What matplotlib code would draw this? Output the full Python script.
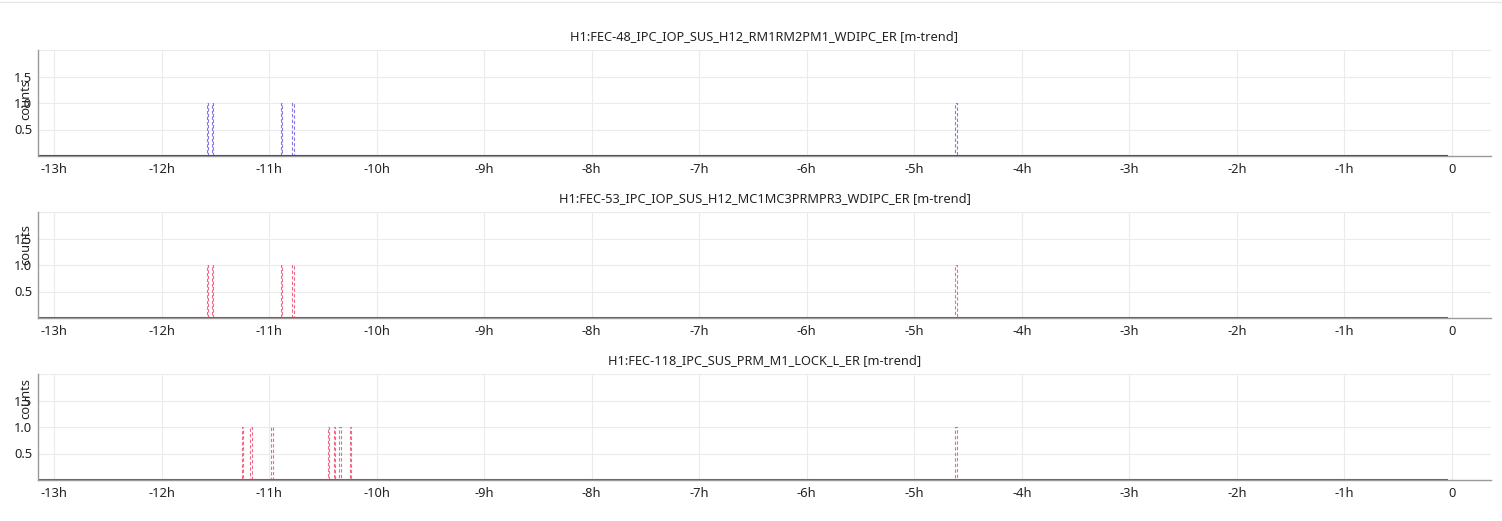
import matplotlib.pyplot as plt
import numpy as np

plt.rcParams['font.family'] = ['Noto Sans', 'DejaVu Sans']

# channel names and spike times (hours before now) where the max trend hit 1
titles = ['H1:FEC-48_IPC_IOP_SUS_H12_RM1RM2PM1_WDIPC_ER [m-trend]',
          'H1:FEC-53_IPC_IOP_SUS_H12_MC1MC3PRMPR3_WDIPC_ER [m-trend]',
          'H1:FEC-118_IPC_SUS_PRM_M1_LOCK_L_ER [m-trend]']
spikes_48 = [-11.572, -11.526, -10.884, -10.779, -4.612]
spikes_53 = [-11.572, -11.526, -10.884, -10.779, -4.612]
spikes_118 = [-11.247, -11.170, -10.970, -10.447, -10.391, -10.340, -10.243, -4.612]
spike_height = 1.0
t_start, t_end = -13.15, -0.046

x_ticks = list(range(-13, 1))
x_labels = ['%dh' % h for h in range(-13, 0)] + ['0']
y_ticks = [0.5, 1.0, 1.5]
y_labels = ['0.5', '1.0', '1.5']

mean_colors = ['#3a3596', '#c8303f', '#c8303f']
max_colors = ['#8479e6', '#f06a88', '#f06a88']
label_y = [0.53, 0.69, 0.77]


def spike_series(spikes, half=0.008):
    xs, ys = [t_start], [0.0]
    for s in sorted(spikes):
        xs += [s - half, s - half, s + half, s + half]
        ys += [0.0, spike_height, spike_height, 0.0]
    xs.append(t_end)
    ys.append(0.0)
    return xs, ys


fig = plt.figure(figsize=(15.02, 5.21), dpi=100)
fig.add_artist(plt.Line2D([0, 1], [0.997, 0.997], color='#e6e6e6', lw=1))

W, H = 1502.0, 521.0
tops = [50, 212, 374]
all_spikes = [spikes_48, spikes_53, spikes_118]

for i in range(3):
    ax = fig.add_axes([38 / W, 1 - (tops[i] + 106) / H, 1453 / W, 106 / H])
    xs, ys = spike_series(all_spikes[i], half=0.0085)
    ax.plot(xs, ys, color=max_colors[i], lw=0.8, ls=(0, (3, 2)))
    ax.plot([t_start, t_end], [0, 0], color=mean_colors[i], lw=1.5)
    ax.set_xlim(-13.149, 0.363)
    ax.set_ylim(0, 2.0)
    ax.set_xticks(x_ticks)
    ax.set_xticklabels(x_labels)
    ax.set_yticks(y_ticks + [2.0])
    ax.set_yticklabels(y_labels + [''])
    ax.tick_params(length=0, labelsize=9.3, colors='#222222', pad=5)
    ax.tick_params(axis='y', pad=4)
    ax.grid(True, color='#ebebeb', lw=0.8)
    ax.set_axisbelow(True)
    for side in ['top', 'right']:
        ax.spines[side].set_visible(False)
    for side in ['left', 'bottom']:
        ax.spines[side].set_color('#999999')
        ax.spines[side].set_linewidth(1)
    ax.set_title(titles[i], fontsize=9.2, color='#222222', pad=7)
    ax.set_ylabel('counts', fontsize=9.3, color='#222222')
    ax.yaxis.set_label_coords(-0.004, label_y[i])

plt.savefig('out.png', dpi=100)
